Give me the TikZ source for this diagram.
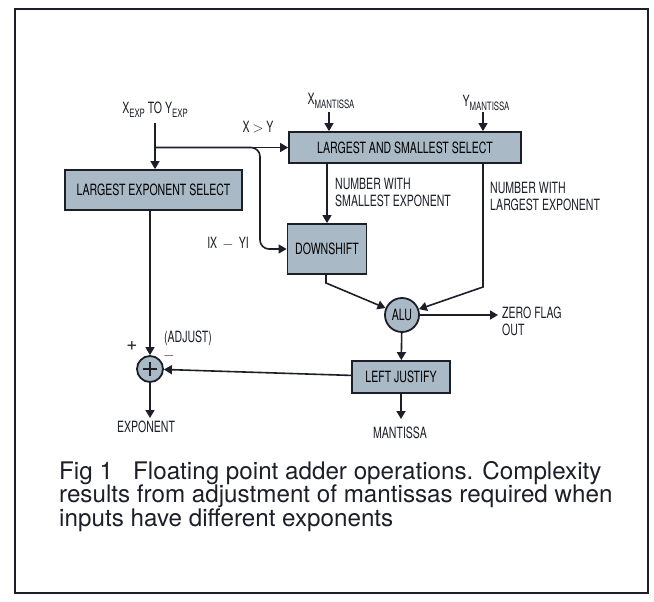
\documentclass[tikz,border=0pt]{standalone}
\usepackage{fontspec}
\setmainfont{TeX Gyre Heros}
\newfontfamily\cond[FakeStretch=0.68]{TeX Gyre Heros}
\usetikzlibrary{arrows.meta}
\definecolor{boxfill}{HTML}{A9B9C6}
\definecolor{ink}{HTML}{1C1E28}
\newcommand{\lowsub}[1]{\raisebox{-0.45ex}{\fontsize{11.5}{12}\selectfont #1}}
\tikzset{
  blk/.style={draw=ink, line width=1.8pt, fill=boxfill, rectangle, inner sep=0pt, font=\cond\fontsize{15.5}{17}\selectfont},
  circ/.style={draw=ink, line width=1.8pt, fill=boxfill, circle, inner sep=0pt, font=\cond\fontsize{15.5}{17}\selectfont},
  lbl/.style={font=\cond\fontsize{15.5}{17}\selectfont, text=ink, inner sep=0pt},
  conn/.style={draw=ink, line width=1.6pt},
  arr/.style={conn, -{Triangle[width=9pt,length=8pt]}}
}
\begin{document}
\begin{tikzpicture}[x=1pt,y=-1pt]
\useasboundingbox (0,0) rectangle (654,602);
\draw[ink, line width=1.6pt] (15,9) rectangle (648,593);

% boxes
\node[blk, minimum width=177pt, minimum height=40pt] (les) at (153.5,190) {LARGEST EXPONENT SELECT};
\node[blk, minimum width=232pt, minimum height=31pt] (lass) at (405,147.5) {LARGEST AND SMALLEST SELECT};
\node[blk, minimum width=79pt, minimum height=50pt] (ds) at (327,249) {DOWNSHIFT};
\node[circ, minimum size=34pt] (alu) at (402,315) {ALU};
\node[blk, minimum width=98pt, minimum height=32pt] (lj) at (401,377) {LEFT JUSTIFY};
\node[circ, minimum size=26pt] (add) at (150,369) {};
\draw[ink, line width=1.5pt] (add.center) ++(-7,0) -- ++(14,0) (add.center) ++(0,-7) -- ++(0,14);

% labels
\node[lbl] (xexp) at (155,110) {X\lowsub{EXP} TO Y\lowsub{EXP}};
\node[lbl] (xgty) at (258,127) {X $>$ Y};
\node[lbl] (xman) at (331,101) {X\lowsub{MANTISSA}};
\node[lbl] (yman) at (486,103) {Y\lowsub{MANTISSA}};
\node[lbl, anchor=west, align=left] (nsmall) at (335,192) {NUMBER WITH\\SMALLEST EXPONENT};
\node[lbl, anchor=west, align=left] (nlarge) at (490,196) {NUMBER WITH\\LARGEST EXPONENT};
\node[lbl] (ixy) at (228,243) {IX\,\,$-$\,\,YI};
\node[lbl, anchor=west, align=left] (zero) at (502,321) {ZERO FLAG\\OUT};
\node[lbl] (mant) at (400,433) {MANTISSA};
\node[lbl] (expo) at (146,427) {EXPONENT};
\node[lbl] (adjust) at (188,338) {(ADJUST)};
\node[lbl, font=\fontsize{19}{20}\selectfont] (plus) at (132,346) {+};
\node[lbl] (minus) at (169,356) {$-$};

% connector coordinates
\coordinate (xs) at (155,123);
\coordinate (j) at (155,147.5);
\coordinate (bend) at (260,147.5);
\coordinate (xms) at (329,112);
\coordinate (yms) at (483,112);
\coordinate (rk) at (483,287);
\coordinate (lk) at (326,283);
\coordinate (zf) at (498,315);
\coordinate (mo) at (401,419);
\coordinate (eo) at (150,418);

% connectors
\draw[arr] (xs) -- (xs |- les.north);
\draw[arr] (j) -- (lass.west);
\draw[arr, rounded corners=9pt] (j) -- (bend) |- (ds.west);
\draw[arr] (xms) -- (xms |- lass.north);
\draw[arr] (yms) -- (yms |- lass.north);
\draw[arr] (ds.north |- lass.south) -- (ds.north);
\draw[arr] (yms |- lass.south) -- (rk) -- (alu);
\draw[arr] (lk |- ds.south) -- (lk) -- (alu);
\draw[arr] (alu) -- (zf);
\draw[arr] (alu) -- (lj);
\draw[arr] (lj) -- (mo);
\draw[arr] (lj) -- (add);
\draw[arr] (add.north |- les.south) -- (add.north);
\draw[arr] (add) -- (eo);

% caption
\node[anchor=north west, align=left, inner sep=0pt, text=ink, font=\fontsize{24.2}{23.5}\selectfont] (cap) at (59,461)
  {Fig 1\ \ \ Floating point adder operations. Complexity\\results from adjustment of mantissas required when\\inputs have different exponents};
\end{tikzpicture}
\end{document}
